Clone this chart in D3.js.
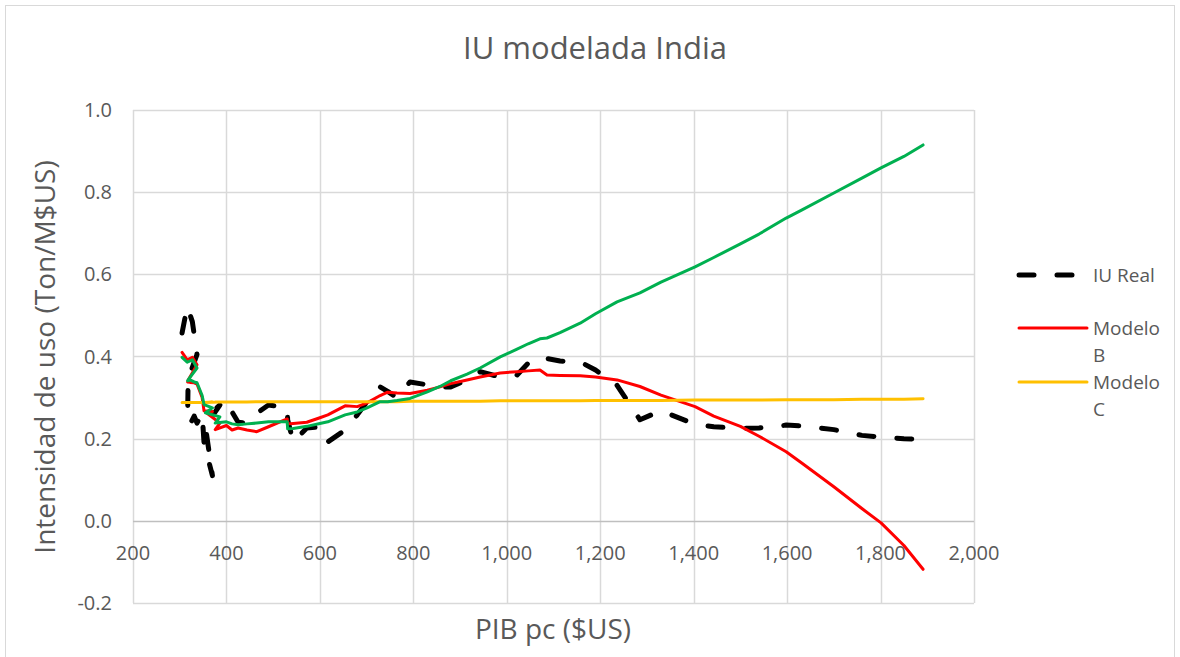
<html>
<head>
<meta charset="utf-8">
<title>IU modelada India</title>
<style>
  body { margin: 0; background: #fff; }
  text { font-family: "Open Sans", sans-serif; fill: #595959; }
</style>
</head>
<body>
<div id="chart"></div>
<script src="https://d3js.org/d3.v7.min.js"></script>
<script>
// PIB per capita ($US), one value per year, shared by all series
var pib = [305, 316, 327, 337, 318, 317, 322, 331, 337, 348, 352, 370, 355, 386, 376, 400,
  412, 425, 444, 465, 490, 530, 531, 543, 572, 600, 617, 654, 680, 701, 729, 745, 765, 793,
  830, 857, 880, 915, 943, 986, 1022, 1046, 1071, 1086, 1114, 1157, 1190, 1236, 1285, 1330,
  1403, 1443, 1500, 1540, 1598, 1632, 1700, 1760, 1801, 1850, 1891];

var iuReal = [0.457, 0.522, 0.485, 0.405, 0.345, 0.265, 0.235, 0.255, 0.238, 0.262, 0.190, 0.110,
  0.230, 0.282, 0.272, 0.278, 0.265, 0.240, 0.238, 0.262, 0.282, 0.275, 0.246, 0.192, 0.226, 0.229,
  0.192, 0.221, 0.258, 0.290, 0.326, 0.315, 0.300, 0.338, 0.331, 0.326, 0.326, 0.343, 0.363, 0.350,
  0.355, 0.384, 0.399, 0.395, 0.389, 0.387, 0.367, 0.330, 0.246, 0.268, 0.235, 0.229, 0.225, 0.226,
  0.233, 0.231, 0.222, 0.208, 0.204, 0.200, 0.198];

var modeloB = [0.410, 0.392, 0.398, 0.380, 0.342, 0.338, 0.337, 0.336, 0.333, 0.300, 0.268, 0.266,
  0.265, 0.238, 0.222, 0.232, 0.221, 0.226, 0.221, 0.217, 0.229, 0.248, 0.236, 0.237, 0.240, 0.251,
  0.258, 0.280, 0.278, 0.287, 0.305, 0.313, 0.311, 0.310, 0.318, 0.326, 0.334, 0.343, 0.350, 0.360,
  0.363, 0.365, 0.367, 0.355, 0.354, 0.353, 0.350, 0.343, 0.327, 0.306, 0.278, 0.255, 0.230, 0.206,
  0.168, 0.140, 0.083, 0.030, -0.005, -0.060, -0.118];

var modeloC = [0.288, 0.288, 0.288, 0.288, 0.288, 0.288, 0.288, 0.288, 0.288, 0.288, 0.288, 0.289,
  0.288, 0.289, 0.289, 0.289, 0.289, 0.289, 0.289, 0.290, 0.290, 0.290, 0.290, 0.290, 0.290, 0.290,
  0.290, 0.290, 0.290, 0.290, 0.290, 0.290, 0.290, 0.291, 0.291, 0.291, 0.291, 0.291, 0.291, 0.292,
  0.292, 0.292, 0.292, 0.292, 0.292, 0.292, 0.293, 0.293, 0.293, 0.293, 0.294, 0.294, 0.294, 0.294,
  0.295, 0.295, 0.295, 0.296, 0.296, 0.296, 0.297];

var modeloVerde = [0.398, 0.386, 0.392, 0.372, 0.343, 0.341, 0.343, 0.338, 0.336, 0.305, 0.283, 0.275,
  0.263, 0.253, 0.238, 0.241, 0.236, 0.234, 0.236, 0.238, 0.241, 0.241, 0.224, 0.225, 0.230, 0.237,
  0.241, 0.258, 0.265, 0.275, 0.290, 0.290, 0.293, 0.298, 0.314, 0.327, 0.341, 0.357, 0.372, 0.399,
  0.418, 0.431, 0.443, 0.445, 0.458, 0.481, 0.504, 0.533, 0.555, 0.581, 0.618, 0.641, 0.674, 0.698,
  0.737, 0.757, 0.798, 0.834, 0.859, 0.887, 0.915];

var xTicks = [200, 400, 600, 800, 1000, 1200, 1400, 1600, 1800, 2000];
var yTicks = [-0.2, 0, 0.2, 0.4, 0.6, 0.8, 1.0];

var width = 1180, height = 657;

var svg = d3.select('#chart')
  .append('svg')
  .attr('width', width)
  .attr('height', height);

// chart border
svg.append('rect')
  .attr('x', 5.5).attr('y', 5.5)
  .attr('width', 1169).attr('height', 660)
  .attr('fill', 'none')
  .attr('stroke', '#d9d9d9');

var x = d3.scaleLinear().domain([200, 2000]).range([133, 974]);
var y = d3.scaleLinear().domain([-0.2, 1.0]).range([603, 110]);

// gridlines
svg.append('g').selectAll('line.v')
  .data(xTicks)
  .enter().append('line')
  .attr('x1', function (d) { return Math.round(x(d)) + 0.5; })
  .attr('x2', function (d) { return Math.round(x(d)) + 0.5; })
  .attr('y1', y(1.0)).attr('y2', y(-0.2))
  .attr('stroke', '#d9d9d9').attr('stroke-width', 1.5);

svg.append('g').selectAll('line.h')
  .data(yTicks)
  .enter().append('line')
  .attr('x1', x(200)).attr('x2', x(2000))
  .attr('y1', function (d) { return Math.round(y(d)) + 0.5; })
  .attr('y2', function (d) { return Math.round(y(d)) + 0.5; })
  .attr('stroke', function (d) { return d === 0 ? '#bfbfbf' : '#d9d9d9'; })
  .attr('stroke-width', 1.5);

// tick labels
svg.append('g').selectAll('text')
  .data(yTicks)
  .enter().append('text')
  .attr('x', 112)
  .attr('y', function (d) { return y(d); })
  .attr('dy', '0.35em')
  .attr('text-anchor', 'end')
  .style('font-size', '20px')
  .text(function (d) { return d3.format('.1f')(d).replace('−', '-'); });

svg.append('g').selectAll('text')
  .data(xTicks)
  .enter().append('text')
  .attr('x', function (d) { return x(d); })
  .attr('y', y(0) + 32)
  .attr('dy', '0.35em')
  .attr('text-anchor', 'middle')
  .style('font-size', '20px')
  .text(function (d) { return d3.format(',')(d); });

// titles
svg.append('text')
  .attr('x', 595).attr('y', 48)
  .attr('dy', '0.35em')
  .attr('text-anchor', 'middle')
  .style('font-size', '31px')
  .text('IU modelada India');

svg.append('text')
  .attr('x', 553).attr('y', 629)
  .attr('dy', '0.35em')
  .attr('text-anchor', 'middle')
  .style('font-size', '28px')
  .text('PIB pc ($US)');

svg.append('text')
  .attr('transform', 'translate(45,357) rotate(-90)')
  .attr('dy', '0.35em')
  .attr('text-anchor', 'middle')
  .style('font-size', '28px')
  .text('Intensidad de uso (Ton/M$US)');

// series
function lineFor(vals) {
  return d3.line()
    .x(function (d, i) { return x(pib[i]); })
    .y(function (d) { return y(d); })(vals);
}

var series = [
  { name: 'IU Real', values: iuReal, color: '#000000', width: 5, dash: '15,23' },
  { name: 'Modelo B', values: modeloB, color: '#ff0000', width: 3, dash: null },
  { name: 'Modelo C', values: modeloC, color: '#ffc000', width: 3, dash: null },
  { name: '', values: modeloVerde, color: '#00b050', width: 3, dash: null }
];

svg.append('g').selectAll('path')
  .data(series)
  .enter().append('path')
  .attr('d', function (d) { return lineFor(d.values); })
  .attr('fill', 'none')
  .attr('stroke', function (d) { return d.color; })
  .attr('stroke-width', function (d) { return d.width; })
  .attr('stroke-dasharray', function (d) { return d.dash; })
  .attr('stroke-linecap', 'round')
  .attr('stroke-linejoin', 'round');

// legend
var legend = [
  { lines: ['IU Real'], y: 275, color: '#000000', width: 5, dash: '15,23', x2: 1075 },
  { lines: ['Modelo', 'B'], y: 328, color: '#ff0000', width: 3, dash: null, x2: 1087 },
  { lines: ['Modelo', 'C'], y: 382, color: '#ffc000', width: 3, dash: null, x2: 1087 }
];

var lg = svg.append('g').selectAll('g')
  .data(legend)
  .enter().append('g');

lg.append('line')
  .attr('x1', 1019).attr('x2', function (d) { return d.x2; })
  .attr('y1', function (d) { return d.y; }).attr('y2', function (d) { return d.y; })
  .attr('stroke', function (d) { return d.color; })
  .attr('stroke-width', function (d) { return d.width; })
  .attr('stroke-dasharray', function (d) { return d.dash; })
  .attr('stroke-linecap', 'round');

lg.each(function (d) {
  var g = d3.select(this);
  d.lines.forEach(function (t, i) {
    g.append('text')
      .attr('x', 1093)
      .attr('y', d.y + i * 27)
      .attr('dy', '0.35em')
      .style('font-size', '19px')
      .text(t);
  });
});
</script>
</body>
</html>
